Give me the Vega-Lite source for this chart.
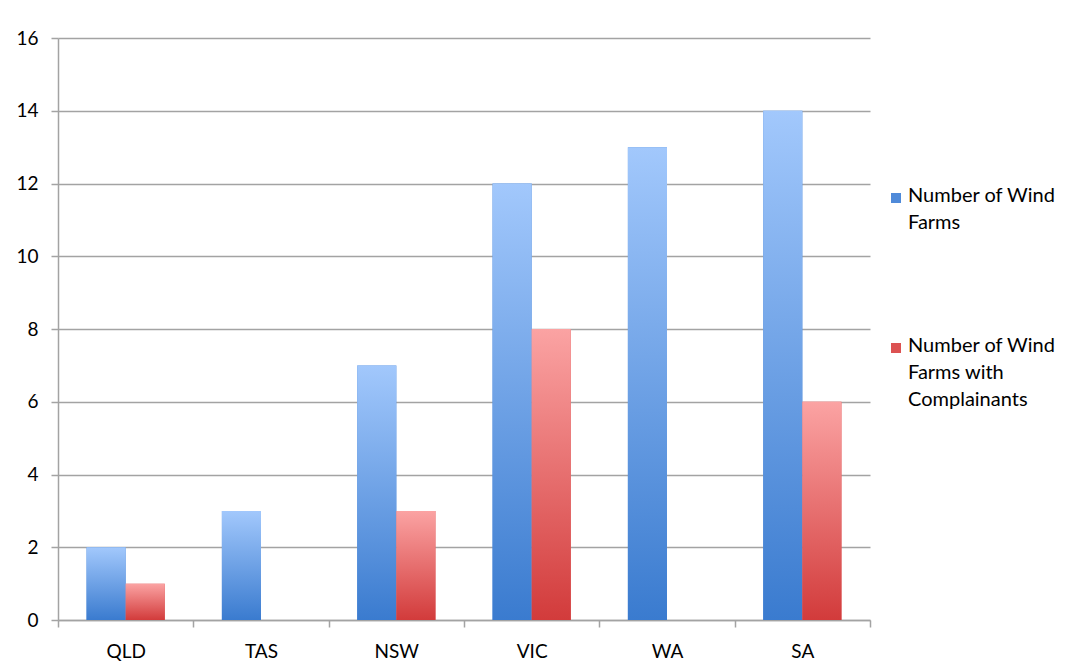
{
  "$schema": "https://vega.github.io/schema/vega-lite/v6.json",
  "width": 812,
  "height": 582,
  "autosize": {"type": "none"},
  "padding": {"left": 58, "top": 38, "right": 206, "bottom": 52},
  "background": "white",
  "data": {
    "values": [
      {"state": "QLD", "series": "Number of Wind Farms", "count": 2},
      {"state": "QLD", "series": "Number of Wind Farms with Complainants", "count": 1},
      {"state": "TAS", "series": "Number of Wind Farms", "count": 3},
      {"state": "TAS", "series": "Number of Wind Farms with Complainants", "count": 0},
      {"state": "NSW", "series": "Number of Wind Farms", "count": 7},
      {"state": "NSW", "series": "Number of Wind Farms with Complainants", "count": 3},
      {"state": "VIC", "series": "Number of Wind Farms", "count": 12},
      {"state": "VIC", "series": "Number of Wind Farms with Complainants", "count": 8},
      {"state": "WA", "series": "Number of Wind Farms", "count": 13},
      {"state": "WA", "series": "Number of Wind Farms with Complainants", "count": 0},
      {"state": "SA", "series": "Number of Wind Farms", "count": 14},
      {"state": "SA", "series": "Number of Wind Farms with Complainants", "count": 6}
    ]
  },
  "encoding": {
    "x": {
      "field": "state",
      "type": "nominal",
      "sort": ["QLD", "TAS", "NSW", "VIC", "WA", "SA"],
      "scale": {"paddingInner": 0, "paddingOuter": 0},
      "axis": {
        "title": null,
        "labelAngle": 0,
        "tickBand": "extent",
        "tickSize": 7,
        "labelPadding": 15,
        "labelFontSize": 19,
        "grid": false
      }
    },
    "xOffset": {
      "field": "series",
      "type": "nominal",
      "sort": ["Number of Wind Farms", "Number of Wind Farms with Complainants"],
      "scale": {"paddingInner": 0, "paddingOuter": 0.73}
    },
    "y": {
      "field": "count",
      "type": "quantitative",
      "scale": {"domain": [0, 16]},
      "axis": {
        "title": null,
        "values": [0, 2, 4, 6, 8, 10, 12, 14, 16],
        "grid": true,
        "tickSize": 7,
        "labelPadding": 13,
        "labelFontSize": 19
      }
    }
  },
  "layer": [
    {
      "mark": {"type": "bar"},
      "encoding": {
        "color": {
          "field": "series",
          "type": "nominal",
          "scale": {
            "domain": ["Number of Wind Farms", "Number of Wind Farms with Complainants"],
            "range": ["#4f8ad9", "#dc5252"]
          },
          "legend": {
            "title": null,
            "orient": "none",
            "legendX": 828,
            "legendY": 150,
            "symbolType": "square",
            "symbolSize": 100,
            "symbolStrokeWidth": 0,
            "labelFontSize": 20,
            "labelLimit": 0,
            "labelBaseline": "top",
            "labelOffset": 2,
            "rowPadding": 103,
            "labelExpr": "datum.label == 'Number of Wind Farms' ? ['Number of Wind', 'Farms'] : ['Number of Wind', 'Farms with', 'Complainants']",
            "encode": {
              "labels": {"update": {"lineHeight": {"value": 27}, "dy": {"value": -12}}}
            }
          }
        }
      }
    },
    {
      "transform": [{"filter": "datum.series == 'Number of Wind Farms'"}],
      "mark": {
        "type": "bar",
        "color": {
          "gradient": "linear",
          "x1": 0, "y1": 0, "x2": 0, "y2": 1,
          "stops": [
            {"offset": 0, "color": "#a2c8fc"},
            {"offset": 1, "color": "#3a7bcf"}
          ]
        }
      }
    },
    {
      "transform": [{"filter": "datum.series == 'Number of Wind Farms with Complainants'"}],
      "mark": {
        "type": "bar",
        "color": {
          "gradient": "linear",
          "x1": 0, "y1": 0, "x2": 0, "y2": 1,
          "stops": [
            {"offset": 0, "color": "#fba3a3"},
            {"offset": 1, "color": "#d23b3b"}
          ]
        }
      }
    }
  ],
  "config": {
    "font": "Lato",
    "view": {"stroke": null},
    "axis": {
      "domainColor": "#a3a3a3",
      "domainWidth": 1.5,
      "tickColor": "#a3a3a3",
      "tickWidth": 1.5,
      "gridColor": "#a3a3a3",
      "gridWidth": 1.5,
      "labelColor": "#000000",
      "labelFont": "Lato"
    },
    "legend": {"labelColor": "#000000", "labelFont": "Lato"}
  }
}
